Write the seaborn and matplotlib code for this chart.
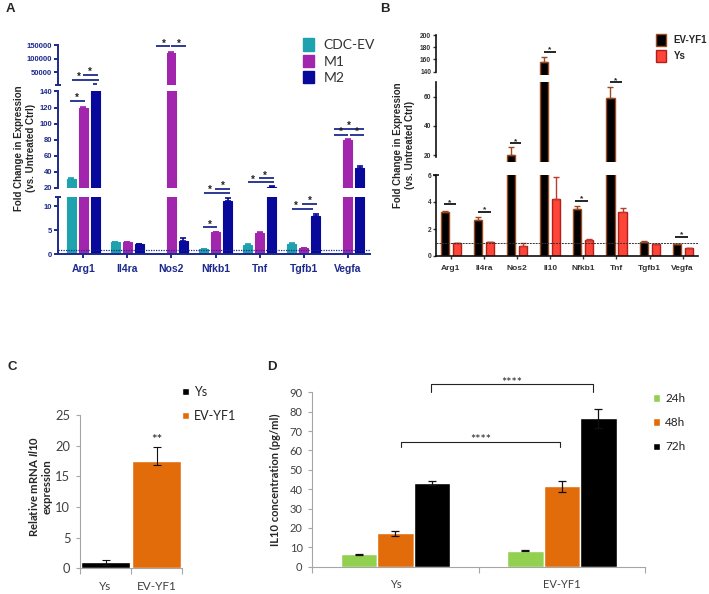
import numpy as np
import pandas as pd
import matplotlib
matplotlib.use("Agg")
import matplotlib.pyplot as plt
import seaborn as sns
from matplotlib.patches import Patch

# ---- panel A : fold change, CDC-EV / M1 / M2
genes_a = ["Arg1", "Il4ra", "Nos2", "Nfkb1", "Tnf", "Tgfb1", "Vegfa"]
groups_a = ["CDC-EV", "M1", "M2"]
cdc_ev = [30.8, 2.5, 0.1, 1.05, 1.9, 2.1, 0.1]
m1 = [120, 2.6, 121000, 4.6, 4.5, 1.25, 80]
m2 = [145, 2.1, 2.8, 11.2, 21.5, 7.9, 45]
cdc_ev_err = [2.0, 0.05, 0.02, 0.05, 0.3, 0.2, 0.02]
m1_err = [1.0, 0.05, 1500, 0.1, 0.05, 0.05, 1.0]
m2_err = [1.5, 0.15, 0.5, 0.6, 0.8, 0.4, 2.0]

# ---- panel B : fold change, EV-YF1 / Ys
genes_b = ["Arg1", "Il4ra", "Nos2", "Il10", "Nfkb1", "Tnf", "Tgfb1", "Vegfa"]
groups_b = ["EV-YF1", "Ys"]
ev_yf1 = [3.28, 2.67, 20.0, 155, 3.48, 59, 1.06, 0.87]
ys_b = [0.94, 1.01, 0.74, 4.25, 1.18, 3.28, 0.89, 0.57]
ev_yf1_err = [0.05, 0.2, 5.3, 9.0, 0.2, 7.5, 0.05, 0.03]
ys_b_err = [0.03, 0.05, 0.25, 1.63, 0.05, 0.25, 0.03, 0.03]

# ---- panel C : relative Il10 mRNA
groups_c = ["Ys", "EV-YF1"]
il10_mrna = [1.0, 17.5]
il10_mrna_err_lo = [0.4, 0.6]
il10_mrna_err_hi = [0.4, 2.3]

# ---- panel D : IL10 concentration
cond_d = ["Ys", "EV-YF1"]
times_d = ["24h", "48h", "72h"]
il10_24h = [6.3, 8.3]
il10_48h = [17.2, 41.4]
il10_72h = [43.3, 76.5]
il10_24h_err = [0.2, 0.2]
il10_48h_err = [1.45, 2.8]
il10_72h_err = [0.9, 4.8]

W, H = 709, 594

def rect(x0, y0, x1, y1):
    return [x0 / W, 1 - y1 / H, (x1 - x0) / W, (y1 - y0) / H]

def fpos(x, y):
    return x / W, 1 - y / H

def add_errs(ax, errs, colors, upper_only=True, lw=1.0, cap=2.5, ymin=None):
    for cont, e, c in zip(ax.containers, errs, colors):
        xs = np.array([b.get_x() + b.get_width() / 2 for b in cont])
        ys = np.array([b.get_height() for b in cont])
        e = np.asarray(e, dtype=float)
        keep = np.ones(len(ys), bool) if ymin is None else ys > ymin
        if not keep.any():
            continue
        xs, ys, e = xs[keep], ys[keep], e[keep]
        yerr = [np.zeros_like(e), e] if upper_only else e
        ax.errorbar(xs, ys, yerr=yerr, fmt="none", ecolor=c, elinewidth=lw,
                    capsize=cap, capthick=lw)

def sig(ax, x0, x1, y, xs, color="k", scol="#222222", fs=7, lw=1.3):
    ax.plot([x0, x1], [y, y], color=color, lw=lw, clip_on=False,
            solid_capstyle="butt")
    if xs is not None:
        ax.text(xs, y, "*", ha="center", va="baseline", color=scol, fontsize=fs,
                clip_on=False, fontweight="bold")

sns.set_style("ticks")
plt.rcParams["font.family"] = ["Liberation Sans", "DejaVu Sans"]
plt.rcParams["mathtext.fontset"] = "custom"
plt.rcParams["mathtext.it"] = "Lato:italic:bold"
plt.rcParams["mathtext.rm"] = "Lato:bold"

fig = plt.figure(figsize=(W / 100, H / 100), dpi=100)

# ================= A =================
NAVY = "#1c2a8c"
pal_a = ["#1ea2ad", "#a126ad", "#08089a"]
dfa = pd.DataFrame({"gene": genes_a * 3,
                    "group": np.repeat(groups_a, len(genes_a)),
                    "value": cdc_ev + m1 + m2})
seg_a = [((0, 12), (196.7, 254.3), [0, 5, 10]),
         ((20, 140), (91.5, 188), list(range(20, 141, 20))),
         ((5000, 150000), (45, 84.5), [50000, 100000, 150000])]
axa = []
for k, (lim, (yt, yb), ticks) in enumerate(seg_a):
    ax = fig.add_axes(rect(58, yt, 370, yb))
    ax.patch.set_visible(False)
    sns.barplot(data=dfa, x="gene", y="value", hue="group", hue_order=groups_a,
                palette=pal_a, width=0.815, gap=0.25, errorbar=None,
                saturation=1, legend=False, ax=ax)
    for p in ax.patches:
        p.set_edgecolor(p.get_facecolor() if k < 2 else "none")
        p.set_linewidth(0.8)
    add_errs(ax, [cdc_ev_err, m1_err, m2_err], pal_a, lw=1.2, cap=2.5,
             ymin=lim[0] if k == 2 else None)
    ax.set_ylim(*lim)
    ax.set_xlim(-0.57, 6.5)
    ax.set_xlabel("")
    ax.set_ylabel("")
    ax.set_yticks(ticks)
    ax.tick_params(axis="y", colors=NAVY, labelsize=5.5, width=1.4, length=3, pad=1)
    for t in ax.get_yticklabels():
        t.set_fontweight("bold")
    sns.despine(ax=ax, bottom=(k != 0))
    ax.spines["left"].set_color(NAVY)
    ax.spines["left"].set_linewidth(1.4)
    if k == 0:
        ax.spines["bottom"].set_color(NAVY)
        ax.spines["bottom"].set_linewidth(1.4)
        ax.tick_params(axis="x", colors=NAVY, labelsize=7.5, width=1.4, length=3, pad=4)
        for t in ax.get_xticklabels():
            t.set_fontweight("bold")
        ax.axhline(1, color=NAVY, ls=(0, (1, 1)), lw=0.9)
        ax.plot([0], [1], marker="_", ms=5, mew=1.4, color=NAVY,
                transform=ax.transAxes, clip_on=False)
    else:
        ax.set_xticks([])
    if k == 2:
        ax.plot([0], [0], marker="_", ms=5, mew=1.4, color=NAVY,
                transform=ax.transAxes, clip_on=False)
    axa.append(ax)

ab, am, at = axa
sig(at, -0.245, 0.358, 22200, -0.10, NAVY)
sig(at, -0.005, 0.336, 41000, 0.163, NAVY)
sig(at, 0.23, 0.31, 6000, None, NAVY)
sig(at, 1.66, 1.977, 145000, 1.82, NAVY)
sig(at, 2.0, 2.32, 145000, 2.16, NAVY)
sig(am, -0.306, 0.034, 128.6, -0.14, NAVY)
sig(am, 3.74, 4.32, 27, 3.85, NAVY)
sig(am, 3.98, 4.32, 32, 4.12, NAVY)
sig(am, 5.68, 6.0, 85.8, 5.84, NAVY)
sig(am, 6.04, 6.36, 85.8, 6.2, NAVY)
sig(am, 5.68, 6.36, 93.3, 6.03, NAVY)
sig(ab, 2.73, 3.32, 12.83, 2.88, NAVY)
sig(ab, 2.98, 3.32, 13.6, 3.16, NAVY)
sig(ab, 2.72, 3.04, 5.6, 2.88, NAVY)
sig(ab, 4.73, 5.21, 9.5, 4.83, NAVY)
sig(ab, 4.97, 5.29, 10.5, 5.14, NAVY)

fig.legend([Patch(fc=c, ec=c) for c in pal_a], groups_a, loc="upper left",
           bbox_to_anchor=fpos(303, 38.5), frameon=False,
           prop=dict(family="Lato", size=10), labelcolor="#333333",
           handlelength=0.8, handleheight=1.0, handletextpad=0.7,
           labelspacing=0.22, borderpad=0, borderaxespad=0)

fig.text(*fpos(25, 148), "Fold Change in Expression\n(vs. Untreated Ctrl)",
         rotation=90, ha="center", va="center", fontsize=7, fontweight="bold",
         multialignment="center", linespacing=1.35)
fig.text(*fpos(10, 9), "A", fontsize=9.5, fontweight="bold", ha="center", va="center")

# ================= B =================
GRAY = "#333333"
pal_b = ["#000000", "#ff4438"]
edge_b = ["#9c4a1f", "#b0201a"]
err_b = ["#9c4a1f", "#c0392b"]
dfb = pd.DataFrame({"gene": genes_b * 2,
                    "group": np.repeat(groups_b, len(genes_b)),
                    "value": ev_yf1 + ys_b})
seg_b = [((0, 6), (175, 256), [0, 2, 4, 6], None),
         ((15, 70.3), (81.7, 162.3), [20, 40, 60], (18.6, 70.3)),
         ((134.5, 200), (35, 75), [140, 160, 180, 200], (140, 200))]
axb = []
for k, (lim, (yt, yb), ticks, bounds) in enumerate(seg_b):
    ax = fig.add_axes(rect(436, yt, 698.3, yb))
    ax.patch.set_visible(False)
    sns.barplot(data=dfb, x="gene", y="value", hue="group", hue_order=groups_b,
                palette=pal_b, width=0.727, gap=0.33, errorbar=None,
                saturation=1, legend=False, ax=ax)
    for cont, ec in zip(ax.containers, edge_b):
        for p in cont:
            p.set_edgecolor(ec)
            p.set_linewidth(1.0)
    add_errs(ax, [ev_yf1_err, ys_b_err], err_b, lw=1.0, cap=2.0,
             ymin=lim[0] if k > 0 else None)
    ax.set_ylim(*lim)
    ax.set_xlim(-0.45, 7.47)
    ax.set_xlabel("")
    ax.set_ylabel("")
    ax.set_yticks(ticks)
    ax.tick_params(axis="y", colors=GRAY, labelsize=4.8, width=1.0, length=2.5, pad=1)
    for t in ax.get_yticklabels():
        t.set_fontweight("bold")
    sns.despine(ax=ax, bottom=(k != 0))
    ax.spines["left"].set_color("#111111")
    ax.spines["left"].set_linewidth(1.2)
    if bounds is not None:
        ax.spines["left"].set_bounds(*bounds)
    if k == 0:
        ax.spines["bottom"].set_linewidth(1.2)
        ax.spines["bottom"].set_color("#111111")
        ax.tick_params(axis="x", colors=GRAY, labelsize=6, width=1.0, length=2.5, pad=4)
        for t in ax.get_xticklabels():
            t.set_fontweight("bold")
        ax.axhline(1, color="#333333", ls=(0, (2, 1)), lw=0.7)
        ax.plot([0], [1], marker="_", ms=4, mew=1.2, color="#111111",
                transform=ax.transAxes, clip_on=False)
    else:
        ax.set_xticks([])
    axb.append(ax)

bb, bm, bt = axb
sig(bb, -0.20, 0.15, 3.85, -0.025, "k", fs=6, lw=1.2)
sig(bb, 0.81, 1.21, 3.28, 1.01, "k", fs=6, lw=1.2)
sig(bm, 1.77, 2.12, 28, 1.945, "k", fs=6, lw=1.2)
sig(bt, 2.80, 3.18, 172.8, 2.99, "k", fs=6, lw=1.2)
sig(bb, 3.74, 4.14, 4.1, 3.94, "k", fs=6, lw=1.2)
sig(bm, 4.80, 5.17, 70.0, 4.985, "k", fs=6, lw=1.2)
sig(bb, 6.77, 7.15, 1.43, 6.96, "k", fs=6, lw=1.2)

fig.legend([Patch(fc=c, ec=e, lw=1.0) for c, e in zip(pal_b, edge_b)], groups_b,
           loc="upper left", bbox_to_anchor=fpos(656, 34), frameon=False,
           prop=dict(weight="bold", size=7), handlelength=1.0, handleheight=1.5,
           handletextpad=0.8, labelspacing=0.45, borderpad=0, borderaxespad=0)

fig.text(*fpos(404, 145), "Fold Change in Expression\n(vs. Untreated Ctrl)",
         rotation=90, ha="center", va="center", fontsize=7, fontweight="bold",
         multialignment="center", linespacing=1.35)
fig.text(*fpos(385, 9), "B", fontsize=9.5, fontweight="bold", ha="center", va="center")

# ================= C =================
ORANGE = "#e36c0a"
AXG = "#a6a6a6"
TXT = "#404040"
axc = fig.add_axes(rect(80, 415, 182, 568.3))
dfc = pd.DataFrame({"group": groups_c, "value": il10_mrna})
sns.barplot(data=dfc, x="group", y="value", hue="group", palette=["#000000", ORANGE],
            width=0.97, errorbar=None, saturation=1, legend=False, ax=axc)
for cont, lo, hi in zip(axc.containers, il10_mrna_err_lo, il10_mrna_err_hi):
    xs = [b.get_x() + b.get_width() / 2 for b in cont]
    ys = [b.get_height() for b in cont]
    axc.errorbar(xs, ys, yerr=[[lo], [hi]], fmt="none", ecolor="#111111",
                 elinewidth=0.8, capsize=3, capthick=0.8)
axc.set_ylim(0, 25)
axc.set_xlim(-0.5, 1.5)
axc.set_yticks(range(0, 26, 5))
axc.set_xlabel("")
axc.set_ylabel("")
sns.despine(ax=axc)
for s in ["left", "bottom"]:
    axc.spines[s].set_color(AXG)
    axc.spines[s].set_linewidth(0.8)
axc.set_xticks([-0.5, 0.5, 1.5], minor=True)
axc.tick_params(axis="x", which="major", length=0, labelsize=8.5, labelcolor=TXT, pad=9)
axc.tick_params(axis="x", which="minor", length=4, color=AXG, width=0.8)
axc.tick_params(axis="y", length=3, color=AXG, width=0.8, labelsize=9.3,
                labelcolor=TXT, pad=4)
for t in axc.get_xticklabels() + axc.get_yticklabels():
    t.set_family("Lato")
axc.text(1, 20.2, "**", ha="center", va="baseline", fontsize=9.5, family="Lato",
         color="#222222")
fig.legend([Patch(fc="#000000"), Patch(fc=ORANGE)], groups_c, loc="upper left",
           bbox_to_anchor=fpos(182, 386), frameon=False,
           prop=dict(family="Lato", size=9), labelcolor="#222222",
           handlelength=0.55, handleheight=0.55, handletextpad=0.4,
           labelspacing=0.95, borderpad=0, borderaxespad=0)
fig.text(*fpos(40, 487), "Relative mRNA $\\mathit{Il10}$\nexpression",
         rotation=90, ha="center", va="center", fontsize=8.2, fontweight="bold",
         family="Lato", multialignment="center")
fig.text(*fpos(12, 367), "C", fontsize=9.5, fontweight="bold", ha="center", va="center")

# ================= D =================
pal_d = ["#92d050", ORANGE, "#000000"]
axd = fig.add_axes(rect(312.3, 392.3, 645, 566.7))
dfd = pd.DataFrame({"cond": cond_d * 3,
                    "time": np.repeat(times_d, len(cond_d)),
                    "value": il10_24h + il10_48h + il10_72h})
sns.barplot(data=dfd, x="cond", y="value", hue="time", hue_order=times_d,
            palette=pal_d, width=0.66, gap=0, errorbar=None, saturation=1,
            legend=False, ax=axd)
add_errs(axd, [il10_24h_err, il10_48h_err, il10_72h_err], ["#111111"] * 3,
         upper_only=False, lw=0.9, cap=3)
axd.set_ylim(0, 90)
axd.set_xlim(-0.5, 1.5)
axd.set_yticks(range(0, 91, 10))
axd.set_xlabel("")
axd.set_ylabel("")
sns.despine(ax=axd)
for s in ["left", "bottom"]:
    axd.spines[s].set_color(AXG)
    axd.spines[s].set_linewidth(0.8)
axd.set_xticks([-0.5, 0.5, 1.5], minor=True)
axd.tick_params(axis="x", which="major", length=0, labelsize=8, labelcolor=TXT, pad=9)
axd.tick_params(axis="x", which="minor", length=4, color=AXG, width=0.8)
axd.tick_params(axis="y", length=3, color=AXG, width=0.8, labelsize=8,
                labelcolor=TXT, pad=4)
for t in axd.get_xticklabels() + axd.get_yticklabels():
    t.set_family("Lato")

def bracket(ax, x0, x1, y, leg, label):
    ax.plot([x0, x0, x1, x1], [y - leg, y, y, y - leg], color="#222222", lw=0.8,
            clip_on=False)
    ax.text((x0 + x1) / 2, y - 1.4, label, ha="center", va="baseline", fontsize=9,
            family="Lato", color="#222222", clip_on=False)

bracket(axd, 0.034, 0.99, 64.5, 2.6, "****")
bracket(axd, 0.213, 1.19, 94.2, 4.0, "****")
fig.legend([Patch(fc=c) for c in pal_d], times_d, loc="upper left",
           bbox_to_anchor=fpos(653, 393), frameon=False,
           prop=dict(family="Lato", size=8.5), labelcolor="#222222",
           handlelength=0.6, handleheight=0.6, handletextpad=0.45,
           labelspacing=1.12, borderpad=0, borderaxespad=0)
fig.text(*fpos(275, 480), "IL10 concentration (pg/ml)", rotation=90, ha="center",
         va="center", fontsize=8, fontweight="bold", family="Lato")
fig.text(*fpos(272, 367), "D", fontsize=9.5, fontweight="bold", ha="center", va="center")

fig.savefig("out.png", dpi=100)
